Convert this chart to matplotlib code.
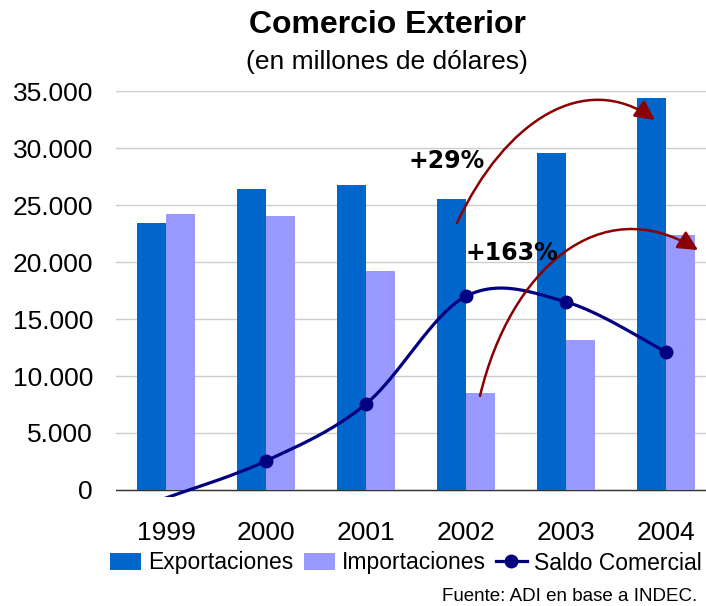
import numpy as np
import matplotlib
matplotlib.use("Agg")
import matplotlib.pyplot as plt
from matplotlib.path import Path
from matplotlib.patches import FancyArrowPatch

plt.rcParams['font.family'] = ['Liberation Sans', 'DejaVu Sans']

anos = ['1999', '2000', '2001', '2002', '2003', '2004']
exportaciones = [23400, 26400, 26750, 25500, 29550, 34400]
importaciones = [24200, 24000, 19200, 8500, 13150, 22350]
saldo = [-700, 2550, 7550, 17000, 16500, 12100]
yTicks = [0, 5000, 10000, 15000, 20000, 25000, 30000, 35000]

colExp = '#0066CC'
colImp = '#9999FF'
colSal = '#000080'
colFle = '#8B0000'


def suaCur(xs, ys, n=40):
    """Curva suavizada tipo Catmull-Rom (como Excel)"""
    pts = np.column_stack([xs, ys]).astype(float)
    ext = np.vstack([pts[0], pts, pts[-1]])
    out = []
    t = np.linspace(0, 1, n)[:, None]
    for i in range(len(pts) - 1):
        p0, p1, p2, p3 = ext[i], ext[i + 1], ext[i + 2], ext[i + 3]
        seg = 0.5 * (2 * p1 + (-p0 + p2) * t + (2 * p0 - 5 * p1 + 4 * p2 - p3) * t ** 2
                     + (-p0 + 3 * p1 - 3 * p2 + p3) * t ** 3)
        out.append(seg if i == 0 else seg[1:])
    return np.vstack(out)


def fmtMil(v):
    return f"{int(v):,}".replace(",", ".")


fig = plt.figure(figsize=(7.06, 6.06), dpi=100)
ax = fig.add_axes([0.1643, 0.1792, 0.8357, 0.6706])

x = np.arange(len(anos))
anc = 0.29
bExp = ax.bar(x - anc / 2, exportaciones, anc, color=colExp, label='Exportaciones', zorder=2)
bImp = ax.bar(x + anc / 2, importaciones, anc, color=colImp, label='Importaciones', zorder=2)

cur = suaCur(x, saldo)
ax.plot(cur[:, 0], cur[:, 1], color=colSal, lw=2.3, zorder=3)
ax.plot(x[1:], saldo[1:], 'o', color=colSal, ms=9, zorder=4)
# handle para la leyenda
lSal, = ax.plot([], [], '-o', color=colSal, lw=2.3, ms=9, label='Saldo Comercial')

ax.set_xlim(-0.5, 5.4)
ax.set_ylim(-650, 35000)
ax.set_yticks(yTicks)
ax.set_yticklabels([fmtMil(v) for v in yTicks])
ax.set_xticks(x)
ax.set_xticklabels(anos)
ax.tick_params(axis='y', length=0, pad=16.5, labelsize=19)
ax.tick_params(axis='x', length=0, pad=17, labelsize=19)
for s in ax.spines.values():
    s.set_visible(False)
ax.grid(axis='y', color='#CCCCCC', lw=1, zorder=0)
ax.set_axisbelow(True)
ax.axhline(0, color='#333333', lw=1, zorder=1)

# flechas de variacion
fle1 = [(2.91, 23420), (3.39, 32460), (4.19, 36840), (4.89, 32460)]
fle2 = [(3.14, 8250), (3.44, 19300), (4.34, 26320), (5.32, 21050)]
for ver in (fle1, fle2):
    pth = Path(ver, [Path.MOVETO, Path.CURVE4, Path.CURVE4, Path.CURVE4])
    fa = FancyArrowPatch(path=pth, arrowstyle='-|>,head_length=0.6,head_width=0.3',
                         mutation_scale=20, color=colFle, lw=1.8, zorder=5, clip_on=False)
    ax.add_patch(fa)

ax.text(2.81, 28860, '+29%', ha='center', va='center', fontsize=17,
        fontweight='bold', family=['DejaVu Sans'], zorder=6)
ax.text(3.46, 20790, '+163%', ha='center', va='center', fontsize=17,
        fontweight='bold', family=['DejaVu Sans'], zorder=6)

fig.text(0.549, 0.9587, 'Comercio Exterior', ha='center', va='center',
         fontsize=23, fontweight='bold')
fig.text(0.548, 0.8977, '(en millones de dólares)', ha='center', va='center', fontsize=19)
fig.text(0.987, 0.0149, 'Fuente: ADI en base a INDEC.', ha='right', va='center', fontsize=13.5)

fig.legend(handles=[bExp, bImp, lSal], loc='center',
           bbox_to_anchor=(406 / 706, 1 - 563 / 606), ncol=3,
           frameon=False, fontsize=16.5, handlelength=1.35, handleheight=0.8,
           handletextpad=0.3, columnspacing=0.45, borderpad=0, borderaxespad=0)

fig.savefig('out.png', dpi=100)
